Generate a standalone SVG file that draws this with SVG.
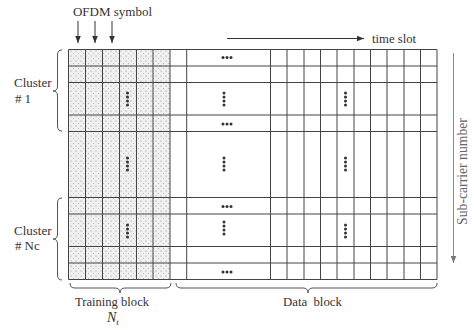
<svg xmlns="http://www.w3.org/2000/svg" width="474" height="330" viewBox="0 0 474 330">
<style>
text{font-family:"Liberation Serif","Times New Roman",serif;fill:#333;}
.g{stroke:#444;stroke-width:1;fill:none;}
.br{stroke:#555;stroke-width:1;fill:none;}
.ar{stroke:#333;stroke-width:1;fill:none;}
.d{fill:#333;}
</style>
<defs>
<pattern id="stip" width="5" height="5" patternUnits="userSpaceOnUse">
<rect width="5" height="5" fill="#f0f0f0"/>
<circle cx="1" cy="1" r="0.6" fill="#959595"/>
<circle cx="3.5" cy="3.5" r="0.5" fill="#aaaaaa"/>
</pattern>
<marker id="ah" viewBox="0 0 10 10" refX="10" refY="5" markerWidth="7" markerHeight="7" orient="auto" markerUnits="userSpaceOnUse">
<path d="M0,1 L10,5 L0,9 Z" fill="#333"/>
</marker>
<marker id="ahg" viewBox="0 0 10 10" refX="10" refY="5" markerWidth="7" markerHeight="7" orient="auto" markerUnits="userSpaceOnUse">
<path d="M0,1 L10,5 L0,9 Z" fill="#777"/>
</marker>
<g id="hd"><circle cx="-4" cy="0" r="1.5"/><circle cx="0" cy="0" r="1.5"/><circle cx="4" cy="0" r="1.5"/></g>
<g id="vd"><circle cx="0" cy="-6" r="1.5"/><circle cx="0" cy="-2" r="1.5"/><circle cx="0" cy="2" r="1.5"/><circle cx="0" cy="6" r="1.5"/></g>
</defs>

<g id="training-shade">
<rect x="68.5" y="49.5" width="101.5" height="230" fill="url(#stip)"/>
</g>

<g id="grid" class="g">
<path d="M68.5,49.5V279.5M85.5,49.5V279.5M102.5,49.5V279.5M119.5,49.5V279.5M136.5,49.5V279.5M153,49.5V279.5M170,49.5V279.5M186.7,49.5V279.5"/>
<path d="M270.5,49.5V279.5M287,49.5V279.5M304,49.5V279.5M320.5,49.5V279.5M337,49.5V279.5M354,49.5V279.5M370.5,49.5V279.5M387,49.5V279.5M404,49.5V279.5M420.5,49.5V279.5M437,49.5V279.5"/>
<path d="M68.5,49.5H437M68.5,66H437M68.5,82.5H437M68.5,115H437M68.5,131.5H437M68.5,197.5H437M68.5,214H437M68.5,246.5H437M68.5,263H437M68.5,279.5H437"/>
</g>

<g id="dots" class="d">
<use href="#hd" x="227" y="57.5"/>
<use href="#vd" x="127.5" y="99"/>
<use href="#vd" x="224" y="99"/>
<use href="#vd" x="345.5" y="99"/>
<use href="#hd" x="227" y="124"/>
<use href="#vd" x="127.5" y="164"/>
<use href="#vd" x="224" y="164"/>
<use href="#vd" x="345.5" y="164"/>
<use href="#hd" x="227" y="206.5"/>
<use href="#vd" x="127.5" y="231"/>
<use href="#vd" x="224" y="228"/>
<use href="#vd" x="345.5" y="231"/>
<use href="#hd" x="227" y="272"/>
</g>

<g id="connectors">
<path class="ar" d="M78,21V43" marker-end="url(#ah)"/>
<path class="ar" d="M95,21V43" marker-end="url(#ah)"/>
<path class="ar" d="M112,21V43" marker-end="url(#ah)"/>
<path class="ar" d="M227,38.5H364" marker-end="url(#ah)"/>
<path d="M453.5,53V263" stroke="#888" stroke-width="1" fill="none" marker-end="url(#ahg)"/>
</g>

<g id="braces">
<path class="br" d="M62,50 Q57.5,50 57.5,55 L57.5,86 Q57.5,91 53,91 Q57.5,91 57.5,96 L57.5,126 Q57.5,131 62,131"/>
<path class="br" d="M62,198 Q57.5,198 57.5,203 L57.5,234 Q57.5,239 53,239 Q57.5,239 57.5,244 L57.5,275 Q57.5,280 62,280"/>
<path class="br" d="M70,283 Q70,288 75,288 L115,288 Q120,288 120,293 Q120,288 125,288 L166,288 Q171,288 171,283"/>
<path class="br" d="M176,283 Q176,288 181,288 L303,288 Q308,288 308,293 Q308,288 313,288 L432,288 Q437,288 437,283"/>
</g>

<g id="labels">
<text x="112.5" y="16" font-size="13" text-anchor="middle">OFDM symbol</text>
<text x="372" y="42.5" font-size="12.7">time slot</text>
<text x="14" y="87" font-size="13">Cluster</text>
<text x="15" y="103" font-size="13">#<tspan dx="3">1</tspan></text>
<text x="14" y="235" font-size="13">Cluster</text>
<text x="15" y="250" font-size="13">#<tspan dx="3">Nc</tspan></text>
<text x="112" y="306" font-size="12.6" text-anchor="middle">Training block</text>
<text x="107" y="322" font-size="14" font-style="italic">N<tspan font-size="9" dy="3">t</tspan></text>
<text x="312.5" y="306" font-size="12.8" text-anchor="middle" word-spacing="3">Data block</text>
<text transform="translate(467,171.5) rotate(-90)" font-size="13.7" text-anchor="middle" style="fill:#666">Sub-carrier number</text>
</g>
</svg>
